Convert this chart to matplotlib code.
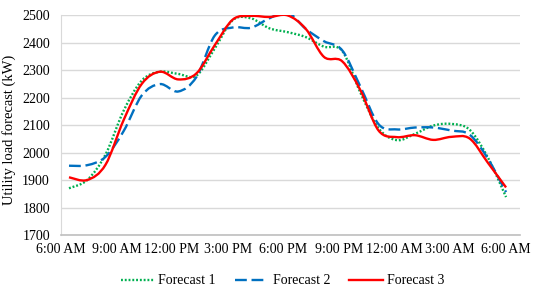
import numpy as np
import matplotlib.pyplot as plt
from matplotlib.path import Path
from matplotlib.patches import PathPatch
from matplotlib.lines import Line2D

plt.rcParams['font.family'] = ['Liberation Serif', 'DejaVu Serif']

# hourly values, 6:00 AM to 6:00 AM next day
hours = np.arange(25)
forecast1 = [1870, 1900, 1992, 2152, 2262, 2294, 2286, 2280, 2378, 2482, 2488,
             2452, 2438, 2420, 2385, 2370, 2218, 2088, 2045, 2068, 2098, 2104,
             2083, 1982, 1838]
forecast2 = [1952, 1954, 1984, 2078, 2208, 2249, 2222, 2275, 2425, 2455, 2454,
             2488, 2510, 2450, 2405, 2372, 2240, 2103, 2084, 2091, 2091, 2080,
             2065, 1978, 1856]
forecast3 = [1910, 1900, 1955, 2118, 2250, 2294, 2266, 2288, 2390, 2484, 2497,
             2493, 2499, 2450, 2348, 2332, 2227, 2080, 2056, 2063, 2046, 2057,
             2051, 1963, 1873]
tick_labels = ['6:00 AM', '9:00 AM', '12:00 PM', '3:00 PM', '6:00 PM',
               '9:00 PM', '12:00 AM', '3:00 AM', '6:00 AM']
yticks = [1700, 1800, 1900, 2000, 2100, 2200, 2300, 2400, 2500]


def smooth_path(x, y):
    # excel-like smoothed line: cubic bezier through every point
    x = np.asarray(x, float)
    y = np.asarray(y, float)
    n = len(x)
    verts = [(x[0], y[0])]
    codes = [Path.MOVETO]
    for i in range(n - 1):
        i0 = max(i - 1, 0)
        i3 = min(i + 2, n - 1)
        c1 = (x[i] + (x[i + 1] - x[i0]) / 6, y[i] + (y[i + 1] - y[i0]) / 6)
        c2 = (x[i + 1] - (x[i3] - x[i]) / 6, y[i + 1] - (y[i3] - y[i]) / 6)
        verts += [c1, c2, (x[i + 1], y[i + 1])]
        codes += [Path.CURVE4] * 3
    return Path(verts, codes)


fig = plt.figure(figsize=(5.33, 2.94), dpi=100)
ax = fig.add_axes([0.1144, 0.2007, 0.861, 0.748])

styles = [
    ('Forecast 1', forecast1, '#00b050', (0, (0.8, 0.8))),
    ('Forecast 2', forecast2, '#0070c0', (0, (5, 2))),
    ('Forecast 3', forecast3, '#ff0000', '-'),
]
handles = []
for name, vals, col, ls in styles:
    patch = PathPatch(smooth_path(hours, vals), fill=False, edgecolor=col,
                      linewidth=1.7, linestyle=ls, capstyle='butt', zorder=3)
    ax.add_patch(patch)
    handles.append(Line2D([], [], color=col, linewidth=1.7, linestyle=ls,
                          dash_capstyle='butt', label=name))

ax.set_xlim(-0.27, 24.76)
ax.set_ylim(1700, 2500)
ax.set_yticks(yticks)
ax.set_xticks(np.linspace(-0.44, 23.96, 9))
ax.set_xticklabels(tick_labels)
ax.tick_params(axis='both', length=0, labelsize=10, colors='black')
ax.tick_params(axis='x', pad=6)
ax.tick_params(axis='y', pad=8)
ax.grid(axis='y', color='#d9d9d9', linewidth=1)
ax.set_axisbelow(True)
for s in ['top', 'right']:
    ax.spines[s].set_visible(False)
ax.spines['left'].set_color('#d9d9d9')
ax.spines['bottom'].set_color('#bfbfbf')
ax.spines['bottom'].set_linewidth(1.2)

ax.set_ylabel('Utility load forecast (kW)', fontsize=10.5)
ax.yaxis.set_label_coords(-0.097, 0.48)

fig.legend(handles=handles, loc='lower center', bbox_to_anchor=(0.53, -0.02),
           ncol=3, frameon=False, fontsize=10, handlelength=2.4,
           columnspacing=1.4, handletextpad=0.3)

fig.savefig('out.png', dpi=100)
